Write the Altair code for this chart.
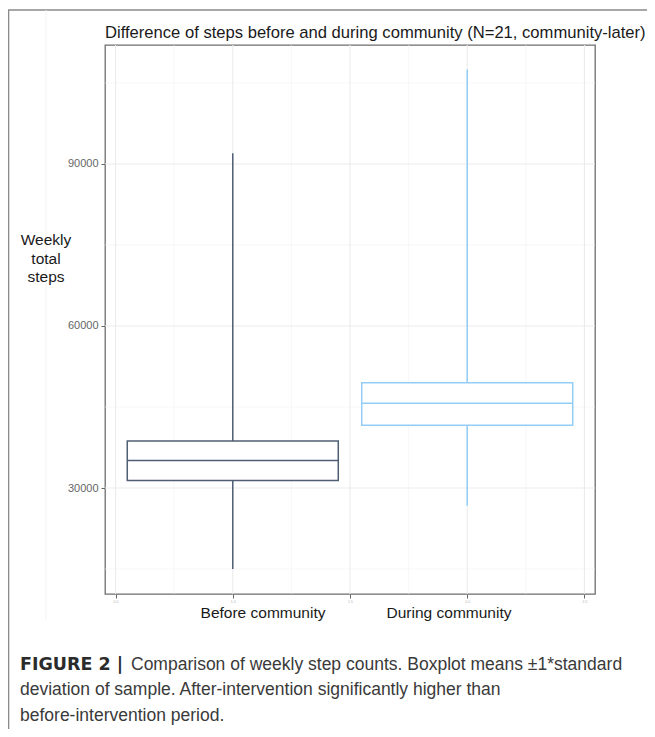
import altair as alt
import pandas as pd

# ---- data ----
groups = ["Before community", "During community"]
centers = [1, 2]
lower = [15000, 26700]
q1 = [31400, 41600]
median = [35100, 45700]
q3 = [38700, 49500]
upper = [92000, 107500]

y_ticks = [30000, 60000, 90000]
y_minor = [15000, 45000, 75000, 105000]
x_major = [0.5, 1.0, 1.5, 2.0, 2.5]
x_minor = [0.75, 1.25, 1.75, 2.25]

title_text = "Difference of steps before and during community (N=21, community-later)"
y_title = "Weekly\ntotal\nsteps"
cap_bold = "FIGURE 2 |"
cap_line1 = "Comparison of weekly step counts. Boxplot means \u00b11*standard"
cap_line2 = "deviation of sample. After-intervention significantly higher than"
cap_line3 = "before-intervention period."

FONT = "Liberation Sans"

df = pd.DataFrame(dict(group=groups, center=centers, lower=lower, q1=q1,
                       median=median, q3=q3, upper=upper))

xscale = alt.Scale(domain=[0.455, 2.545], nice=False, zero=False)
yscale = alt.Scale(domain=[10380, 112020], nice=False, zero=False)

xaxis = alt.Axis(values=x_major, format=".1f", labelFontSize=3.5, labelColor="#b0b0b0",
                 tickColor="#666666", tickSize=4, tickWidth=1, domain=False, grid=False,
                 title=None, labelPadding=1, labelFont=FONT)
yaxis = alt.Axis(values=y_ticks, format="d", labelFontSize=11, labelColor="#666666",
                 tickColor="#666666", tickSize=4, tickWidth=1, domain=False, grid=False,
                 title=None, labelPadding=3, labelFont=FONT)

box_scale = alt.Scale(domain=groups, range=["#4f5e73", "#93cdf5"])
med_scale = alt.Scale(domain=groups, range=["#2a3b52", "#74b8ec"])

base = alt.Chart(df)

ygrid_major = alt.Chart(pd.DataFrame({"v": y_ticks})).mark_rule(
    color="#ebebeb", strokeWidth=1.1).encode(y=alt.Y("v:Q", scale=yscale, axis=yaxis))
ygrid_minor = alt.Chart(pd.DataFrame({"v": y_minor})).mark_rule(
    color="#f2f2f2", strokeWidth=0.6).encode(y=alt.Y("v:Q", scale=yscale, axis=yaxis))
xgrid_major = alt.Chart(pd.DataFrame({"v": x_major})).mark_rule(
    color="#ebebeb", strokeWidth=1.1).encode(x=alt.X("v:Q", scale=xscale, axis=xaxis))
xgrid_minor = alt.Chart(pd.DataFrame({"v": x_minor})).mark_rule(
    color="#f2f2f2", strokeWidth=0.6).encode(x=alt.X("v:Q", scale=xscale, axis=xaxis))

whisker = base.mark_rule(strokeWidth=1.5).encode(
    x=alt.X("center:Q", scale=xscale, axis=xaxis),
    y=alt.Y("lower:Q", scale=yscale, axis=yaxis),
    y2="upper:Q",
    color=alt.Color("group:N", scale=box_scale, legend=None),
)

box = base.transform_calculate(
    left="datum.center - 0.45", right="datum.center + 0.45"
).mark_rect(fill="white", strokeWidth=1.5).encode(
    x=alt.X("left:Q", scale=xscale, axis=xaxis),
    x2="right:Q",
    y=alt.Y("q1:Q", scale=yscale, axis=yaxis),
    y2="q3:Q",
    stroke=alt.Stroke("group:N", scale=box_scale, legend=None),
)

med = base.transform_calculate(
    left="datum.center - 0.45", right="datum.center + 0.45"
).mark_rule(strokeWidth=1.6).encode(
    x=alt.X("left:Q", scale=xscale, axis=xaxis),
    x2="right:Q",
    y=alt.Y("median:Q", scale=yscale, axis=yaxis),
    color=alt.Color("group:N", scale=med_scale, legend=None),
)

one = alt.Chart(pd.DataFrame({"a": [0]}))


def txt(text, x, y, size, color="#1a1a1a", weight="normal", align="left",
        baseline="middle", font=FONT, **kw):
    return one.mark_text(fontSize=size, font=font, color=color, fontWeight=weight,
                         align=align, baseline=baseline, **kw).encode(
        x=alt.value(x), y=alt.value(y), text=alt.value(text))


frame_top = one.mark_rule(color="#8a8a8a", strokeWidth=1.6).encode(
    x=alt.value(-97), x2=alt.value(560), y=alt.value(-35))
frame_left = one.mark_rule(color="#8a8a8a", strokeWidth=1.6).encode(
    x=alt.value(-96.5), y=alt.value(-35), y2=alt.value(700))
faint = one.mark_rule(color="#f3f3f3", strokeWidth=1).encode(
    x=alt.value(-59), y=alt.value(-35), y2=alt.value(575))

title = txt(title_text, 0, -12, 16.6)
ytitle = txt(y_title, -59, 195, 15.5, align="center", lineBreak="\n", lineHeight=18.5)
xl1 = txt(groups[0], 158, 568, 15.5, align="center")
xl2 = txt(groups[1], 344, 568, 15.5, align="center")

c0 = txt(cap_bold, -85, 620, 17.5, color="#2b2b2b", weight="bold", font="DejaVu Sans")
c1 = txt(cap_line1, 26, 620, 17.5, color="#3a3a3a")
c2 = txt(cap_line2, -85, 645, 17.5, color="#3a3a3a")
c3 = txt(cap_line3, -85, 671, 17.5, color="#3a3a3a")

chart = alt.layer(
    ygrid_minor, xgrid_minor, ygrid_major, xgrid_major,
    whisker, box, med,
    frame_top, frame_left, faint,
    title, ytitle, xl1, xl2, c0, c1, c2, c3,
).properties(
    width=490, height=549,
    autosize=alt.AutoSizeParams(type="none"),
    padding={"left": 97, "top": 37, "right": 52, "bottom": 135},
    background="white",
).configure_view(stroke="#6e6e6e", strokeWidth=1.3)

chart.save("out.html", embed_options={"renderer": "svg", "actions": False})
